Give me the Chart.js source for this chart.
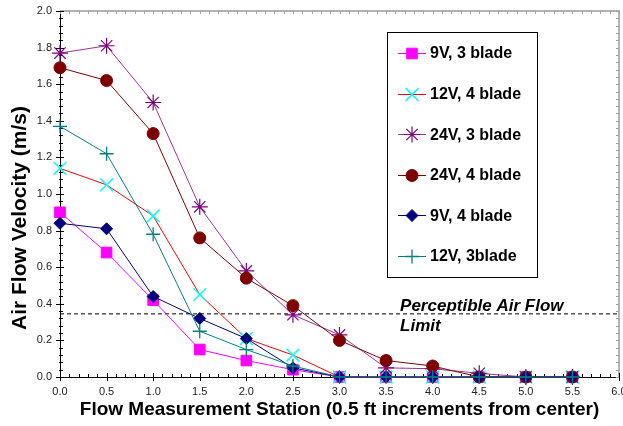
<!DOCTYPE html>
<html>
<head>
<meta charset="utf-8">
<title>Air Flow Velocity</title>
<script src="https://cdn.jsdelivr.net/npm/chart.js@4/dist/chart.umd.min.js"></script>
<style>
  html, body { margin: 0; padding: 0; background: #fff; }
  #wrap { width: 623px; height: 426px; }
</style>
</head>
<body>
<div id="wrap"><canvas id="chart" width="623" height="426"></canvas></div>
<script>
// DATA
const stations = [0, 0.5, 1.0, 1.5, 2.0, 2.5, 3.0, 3.5, 4.0, 4.5, 5.0, 5.5];

const v9_3blade  = [0.90, 0.68, 0.42, 0.15, 0.09, 0.04, 0, 0, 0, 0, 0, 0];
const v12_4blade = [1.14, 1.05, 0.88, 0.45, 0.21, 0.12, 0, 0, 0, 0, 0, 0];
const v24_3blade = [1.77, 1.81, 1.50, 0.93, 0.58, 0.34, 0.23, 0.05, 0.045, 0.02, 0, 0];
const v24_4blade = [1.69, 1.62, 1.33, 0.76, 0.54, 0.39, 0.20, 0.09, 0.06, 0, 0, 0];
const v9_4blade  = [0.84, 0.81, 0.44, 0.32, 0.21, 0.05, 0, 0, 0, 0, 0, 0];
const v12_3blade = [1.37, 1.22, 0.78, 0.25, 0.15, 0.06, 0, 0, 0, 0, 0, 0];

const limitValue = 0.345;
const limitText = ["Perceptible Air Flow", "Limit"];

const xMin = 0, xMax = 6, xStep = 0.5;
const yMin = 0, yMax = 2, yStep = 0.2;

const xTitle = "Flow Measurement Station (0.5 ft increments from center)";
const yTitle = "Air Flow Velocity (m/s)";

const FONT = "'Liberation Sans', Arial, Helvetica, sans-serif";

function pts(values) {
    return stations.map((s, i) => ({ x: s, y: values[i] }));
}

// SERIES
const series = [
    { label: "9V, 3 blade",  data: v9_3blade,  line: "#FF00FF", mark: "#FF00FF", fill: "#FF00FF", style: "rect",     r: 7.5, bw: 1,   order: 6 },
    { label: "12V, 4 blade", data: v12_4blade, line: "#FF0000", mark: "#00FFFF", fill: "#00FFFF", style: "crossRot", r: 9,   bw: 1.5, order: 5 },
    { label: "24V, 3 blade", data: v24_3blade, line: "#993399", mark: "#800080", fill: "#800080", style: "star",     r: 8,   bw: 1.2, order: 4 },
    { label: "24V, 4 blade", data: v24_4blade, line: "#800000", mark: "#800000", fill: "#800000", style: "circle",   r: 6,   bw: 1,   order: 3 },
    { label: "9V, 4 blade",  data: v9_4blade,  line: "#000080", mark: "#000080", fill: "#000080", style: "rectRot",  r: 6,   bw: 1,   order: 2 },
    { label: "12V, 3blade",  data: v12_3blade, line: "#008080", mark: "#008080", fill: "#008080", style: "cross",    r: 7,   bw: 1.3, order: 1 }
];

const datasets = series.map(s => ({
    label: s.label,
    data: pts(s.data),
    borderColor: s.line,
    borderWidth: 1,
    backgroundColor: s.fill,
    pointStyle: s.style,
    pointRadius: s.r,
    pointBackgroundColor: s.fill,
    pointBorderColor: s.mark,
    pointBorderWidth: s.bw,
    tension: 0,
    clip: false,
    order: s.order
}));

// reference line
datasets.push({
    label: "limit",
    data: [{ x: xMin, y: limitValue }, { x: xMax, y: limitValue }],
    borderColor: "#000",
    borderWidth: 1,
    borderDash: [4, 3],
    pointRadius: 0,
    order: 10
});

// LEGEND / DECORATION
function marker(ctx, s, x, y) {
    ctx.fillStyle = s.fill;
    ctx.strokeStyle = s.mark;
    ctx.lineWidth = s.bw;
    if (Chart.helpers && Chart.helpers.drawPoint) {
        Chart.helpers.drawPoint(ctx, { pointStyle: s.style, radius: s.r, rotation: 0, borderWidth: s.bw }, x, y);
    }
}

const decor = {
    id: "decor",
    beforeDatasetsDraw(chart) {
        const { ctx, chartArea: a, scales: { x, y } } = chart;
        ctx.save();

        // grey frame top / right
        ctx.strokeStyle = "#b4b4b4";
        ctx.lineWidth = 2;
        ctx.beginPath();
        ctx.moveTo(a.left, a.top);
        ctx.lineTo(a.right, a.top);
        ctx.lineTo(a.right, a.bottom);
        ctx.stroke();

        ctx.lineWidth = 1;
        // x ticks
        for (let i = 0; i <= 60; i++) {
            const px = Math.round(x.getPixelForValue(i / 10)) + 0.5;
            const major = i % 5 === 0;
            ctx.strokeStyle = "#000";
            ctx.beginPath();
            ctx.moveTo(px, a.bottom - (major ? 4 : 3));
            ctx.lineTo(px, a.bottom + (major ? 4 : 0));
            ctx.stroke();
            ctx.strokeStyle = "#a0a0a0";
            ctx.beginPath();
            ctx.moveTo(px, a.top);
            ctx.lineTo(px, a.top + 3);
            ctx.stroke();
        }
        // y ticks
        for (let i = 0; i <= 50; i++) {
            const py = Math.round(y.getPixelForValue(i / 25)) + 0.5;
            const major = i % 5 === 0;
            ctx.strokeStyle = "#000";
            ctx.beginPath();
            ctx.moveTo(a.left - (major ? 4 : 1), py);
            ctx.lineTo(a.left + (major ? 4 : 3), py);
            ctx.stroke();
            ctx.strokeStyle = "#a0a0a0";
            ctx.beginPath();
            ctx.moveTo(a.right - 3, py);
            ctx.lineTo(a.right, py);
            ctx.stroke();
        }
        ctx.restore();
    },
    afterDraw(chart) {
        const { ctx, scales: { x, y } } = chart;
        ctx.save();

        // y title
        ctx.fillStyle = "#000";
        ctx.font = "bold 21px " + FONT;
        ctx.textAlign = "center";
        ctx.textBaseline = "middle";
        ctx.translate(20, 218);
        ctx.rotate(-Math.PI / 2);
        ctx.fillText(yTitle, 0, 0);
        ctx.setTransform(1, 0, 0, 1, 0, 0);

        // limit note
        const lx = x.getPixelForValue(3.65);
        const ly = y.getPixelForValue(limitValue);
        ctx.font = "italic bold 17px " + FONT;
        ctx.textAlign = "left";
        ctx.fillText(limitText[0], lx, ly - 8);
        ctx.fillText(limitText[1], lx, ly + 12);

        // legend box
        const bx = 387, by = 32, bw = 150, bh = 245;
        ctx.fillStyle = "#fff";
        ctx.fillRect(bx, by, bw, bh);
        ctx.strokeStyle = "#000";
        ctx.lineWidth = 1;
        ctx.strokeRect(bx + 0.5, by + 0.5, bw, bh);

        series.forEach((s, i) => {
            const cy = 53 + i * 40.6;
            ctx.strokeStyle = s.line;
            ctx.lineWidth = 1;
            ctx.beginPath();
            ctx.moveTo(398, Math.round(cy) + 0.5);
            ctx.lineTo(426, Math.round(cy) + 0.5);
            ctx.stroke();
            marker(ctx, s, 412, Math.round(cy) + 0.5);
            ctx.fillStyle = "#000";
            ctx.font = "bold 16px " + FONT;
            ctx.textAlign = "left";
            ctx.textBaseline = "middle";
            ctx.fillText(s.label, 430, cy + 1);
        });
        ctx.restore();
    }
};

// CHART
const tickFont = { family: FONT, size: 11 };

new Chart(document.getElementById("chart"), {
    type: "line",
    data: { datasets },
    options: {
        responsive: false,
        animation: false,
        layout: { autoPadding: false, padding: { left: 0, right: 4, top: 11, bottom: 0 } },
        plugins: { legend: { display: false }, tooltip: { enabled: false } },
        scales: {
            x: {
                type: "linear",
                min: xMin,
                max: xMax,
                ticks: {
                    stepSize: xStep,
                    callback: v => Number(v).toFixed(1),
                    font: tickFont,
                    color: "#222",
                    padding: 8,
                    maxRotation: 0
                },
                grid: { display: false, drawTicks: false },
                border: { display: true, color: "#000", width: 1 },
                title: {
                    display: true,
                    text: xTitle,
                    color: "#000",
                    font: { family: FONT, size: 19, weight: "bold" },
                    padding: { top: 0, bottom: 5 }
                },
                afterFit(scale) {
                    scale.height = 49;
                    scale.paddingLeft = 0;
                    scale.paddingRight = 0;
                }
            },
            y: {
                min: yMin,
                max: yMax,
                ticks: {
                    stepSize: yStep,
                    callback: v => Number(v).toFixed(1),
                    font: tickFont,
                    color: "#222",
                    padding: 8
                },
                grid: { display: false, drawTicks: false },
                border: { display: true, color: "#000", width: 1 },
                afterFit(scale) {
                    scale.width = 60;
                    scale.paddingTop = 0;
                    scale.paddingBottom = 0;
                }
            }
        }
    },
    plugins: [decor]
});
</script>
</body>
</html>
